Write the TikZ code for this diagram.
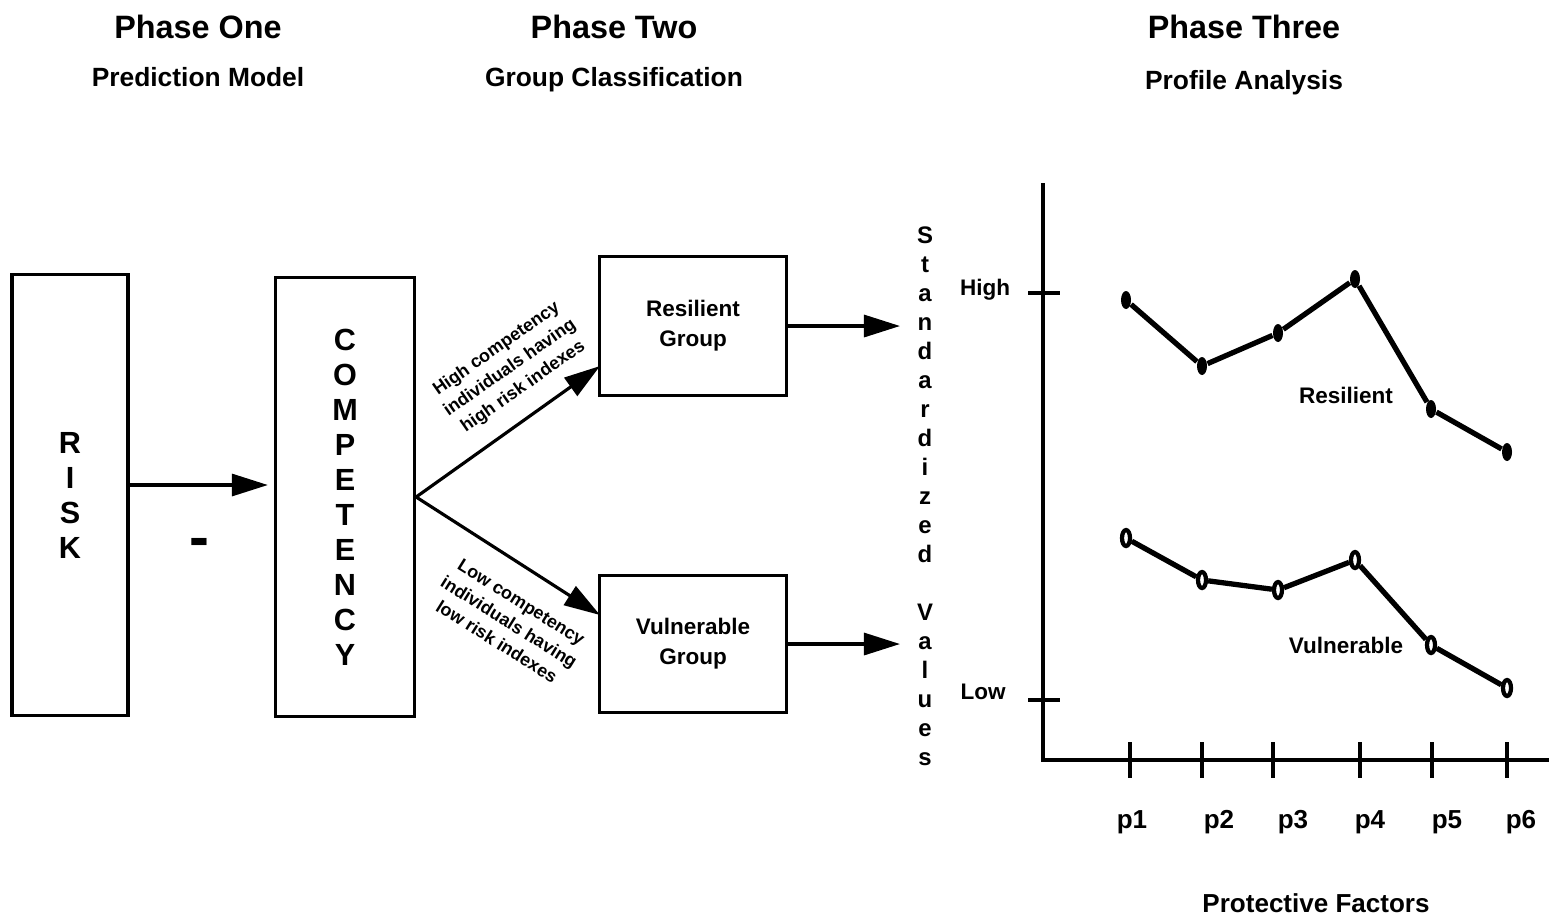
\documentclass[tikz,border=0pt]{standalone}
\usepackage{fontspec}
\setmainfont{Liberation Sans}
\usetikzlibrary{arrows.meta,shapes.geometric}

\begin{document}
\begin{tikzpicture}[x = 0.01cm, y = -0.01cm,
  head/.style = {anchor = base, font = \fontsize{9.2}{11}\selectfont\bfseries},
  subhead/.style = {anchor = base, font = \fontsize{7.5}{9}\selectfont\bfseries},
  letters/.style = {font = \fontsize{8.7}{9.96}\selectfont\bfseries, align = center},
  boxtext/.style = {font = \fontsize{6.4}{8.5}\selectfont\bfseries, align = center},
  small/.style = {font = \fontsize{5.1}{6.6}\selectfont\bfseries, align = center},
  axislabel/.style = {font = \fontsize{7.4}{9}\selectfont\bfseries},
  box/.style = {draw, line width = 0.9pt, inner sep = 0pt},
  flow/.style = {line width = 0.9pt, -{Triangle[length = 0.36cm, width = 0.22cm]}},
  profile/.style = {line width = 1.5pt},
  fulldot/.style = {ellipse, fill = black, inner sep = 0pt,
    minimum width = 0.1cm, minimum height = 0.18cm},
  opendot/.style = {ellipse, draw, line width = 1.2pt, fill = white, inner sep = 0pt,
    minimum width = 0.08cm, minimum height = 0.16cm},
  tickmark/.style = {line width = 0.9pt}]
\useasboundingbox (0, 0) rectangle (1549, 920);
% phase headings
\node [head] (ph1) at (198, 38) {Phase One};
\node [subhead] (sub1) at (198, 86) {Prediction Model};
\node [head] (ph2) at (614, 38) {Phase Two};
\node [subhead] (sub2) at (614, 86) {Group Classification};
\node [head] (ph3) at (1244, 38) {Phase Three};
\node [subhead] (sub3) at (1244, 89) {Profile Analysis};
% phase one
\node [box, letters, minimum width = 1.16cm, minimum height = 4.4cm] (risk) at (70, 495)
  {R\\I\\S\\K};
\node [box, letters, minimum width = 1.39cm, minimum height = 4.39cm] (comp) at (345, 497)
  {C\\O\\M\\P\\E\\T\\E\\N\\C\\Y};
\node [font = \fontsize{17}{17}\selectfont\bfseries] (minus) at (199, 548) {-};
\draw [flow, shorten > = 0.06cm] ([yshift = 0.1cm]risk.east) -- ([yshift = 0.1cm]risk.east -| comp.west);
% phase two
\node [box, boxtext, minimum width = 1.87cm, minimum height = 1.39cm] (res) at (693, 326)
  {Resilient\\Group};
\node [box, boxtext, minimum width = 1.87cm, minimum height = 1.37cm] (vul) at (693, 644)
  {Vulnerable\\Group};
\coordinate (resin) at (600, 366);
\coordinate (vulin) at (600, 615);
\draw [flow] (comp.east) -- (resin);
\draw [flow] (comp.east) -- (vulin);
\node [small, rotate = 35] (hightext) at (510, 368)
  {High competency\\individuals having\\high risk indexes};
\node [small, rotate = -32] (lowtext) at (509, 622)
  {Low competency\\individuals having\\low risk indexes};
\coordinate (resout) at (900, 326);
\coordinate (vulout) at (900, 644);
\draw [flow] (res.east) -- (resout);
\draw [flow] (vul.east) -- (vulout);
% phase three
\node [font = \fontsize{6.8}{8.25}\selectfont\bfseries, align = center] (stdval) at (925, 496)
  {S\\t\\a\\n\\d\\a\\r\\d\\i\\z\\e\\d\\\mbox{}\\V\\a\\l\\u\\e\\s};
\coordinate (origin) at (1043, 760);
\draw [line width = 0.9pt] (1043, 183) -- (origin) -- (1549, 760);
\draw [tickmark] (1028, 293) -- (1060, 293);
\draw [tickmark] (1028, 700) -- (1060, 700);
\node [boxtext] (high) at (985, 290) {High};
\node [boxtext] (low) at (983, 692) {Low};
\foreach \t/\l/\n in {1130/1132/1, 1202/1219/2, 1273/1293/3, 1360/1370/4, 1432/1447/5, 1507/1521/6}
{
  \draw [tickmark] (\t, 742) -- (\t, 778);
  \node [axislabel] (p\n) at (\l, 822) {p\n};
}
\node [axislabel] (factors) at (1316, 903) {Protective Factors};
% resilient profile
\foreach \n/\x/\y in {1/1126/300, 2/1202/366, 3/1278/333, 4/1355/279, 5/1431/409, 6/1507/452}
  \node [fulldot] (r\n) at (\x, \y) {};
\draw [profile] (r1) -- (r2) -- (r3) -- (r4) -- (r5) -- (r6);
\node [boxtext] (reslabel) at (1346, 395) {Resilient};
% vulnerable profile
\foreach \n/\x/\y in {1/1126/538, 2/1202/580, 3/1278/590, 4/1355/560, 5/1431/645, 6/1507/688}
  \node [opendot] (v\n) at (\x, \y) {};
\draw [profile] (v1) -- (v2) -- (v3) -- (v4) -- (v5) -- (v6);
\node [boxtext] (vullabel) at (1346, 645) {Vulnerable};
\end{tikzpicture}
\end{document}
